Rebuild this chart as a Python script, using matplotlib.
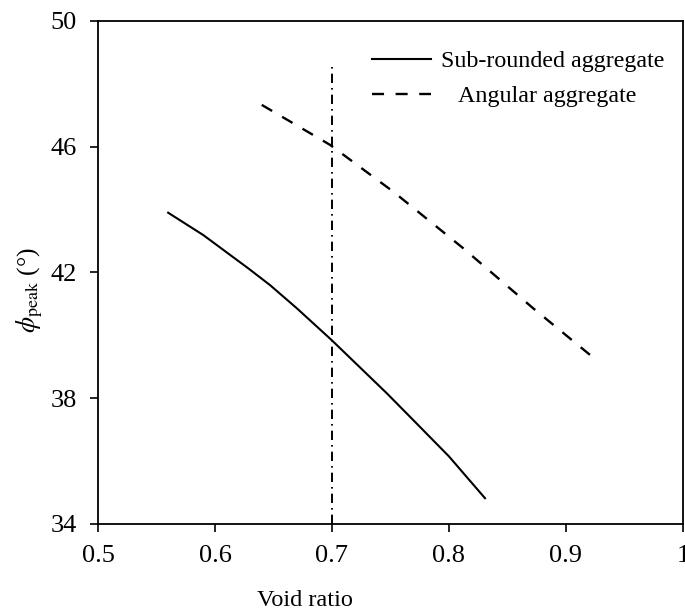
import matplotlib
matplotlib.use("Agg")
import matplotlib.pyplot as plt

# values
e_sub = [0.560, 0.590, 0.6285, 0.647, 0.670, 0.6997, 0.7468, 0.7667, 0.800, 0.8308]
phi_sub = [43.90, 43.19, 42.13, 41.60, 40.86, 39.85, 38.16, 37.41, 36.15, 34.82]

e_ang = [0.640, 0.6983, 0.7524, 0.8122, 0.872, 0.9205]
phi_ang = [47.33, 46.06, 44.57, 42.77, 40.86, 39.38]

e_line = 0.7
line_top = 48.55

xticks = [0.5, 0.6, 0.7, 0.8, 0.9, 1.0]
xtick_labels = ['0.5', '0.6', '0.7', '0.8', '0.9', '1']
yticks = [34, 38, 42, 46, 50]

plt.rcParams['font.family'] = ['Liberation Serif', 'DejaVu Serif']
plt.rcParams['mathtext.fontset'] = 'stix'

fig = plt.figure(figsize=(6.85, 6.16), dpi=100)
ax = fig.add_axes([0.143, 0.1494, 0.854, 0.8166])

l1, = ax.plot(e_sub, phi_sub, color='black', lw=1.5)
l2, = ax.plot(e_ang, phi_ang, color='black', lw=1.7, linestyle=(0, (5.1, 4.9)))
ax.plot([e_line, e_line], [34, line_top], color='black', lw=1.4,
        linestyle=(0, (4.8, 2.6, 0.8, 2.6)))

ax.set_xlim(0.5, 1.0)
ax.set_ylim(34, 50)
ax.set_xticks(xticks)
ax.set_xticklabels(xtick_labels)
ax.set_yticks(yticks)
ax.tick_params(direction='out', length=6, width=1.2, labelsize=19, pad=9)
for sp in ax.spines.values():
    sp.set_linewidth(1.3)

ax.set_xlabel('Void ratio', fontsize=17.5)
ax.xaxis.label.set_va('center')
ax.xaxis.set_label_coords(0.354, -0.152)
ax.set_ylabel(r'$\phi_{\rm peak}$ (°)', fontsize=18.5)
ax.yaxis.label.set_va('center')
ax.yaxis.set_label_coords(-0.117, 0.465)

# two single-entry legends so the second label sits a bit further right
leg1 = ax.legend([l1], ['Sub-rounded aggregate'], loc='upper left',
                 bbox_to_anchor=(0.468, 0.942), frameon=False, fontsize=17.3,
                 handlelength=2.45, handletextpad=0.45, borderaxespad=0,
                 borderpad=0)
ax.add_artist(leg1)
ax.legend([l2], ['Angular aggregate'], loc='upper left',
          bbox_to_anchor=(0.468, 0.872), frameon=False, fontsize=17.3,
          handlelength=2.45, handletextpad=1.15, borderaxespad=0,
          borderpad=0)

fig.savefig('out.png', dpi=100)
